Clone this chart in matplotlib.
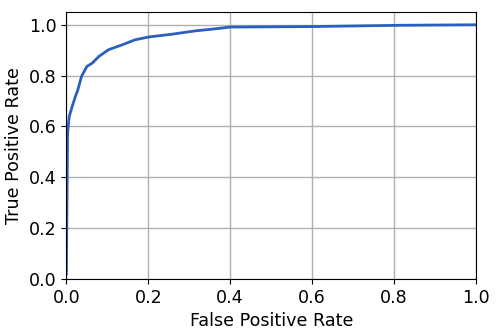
import matplotlib
matplotlib.use("Agg")
import matplotlib.pyplot as plt

fpr = [0.0, 0.003, 0.007, 0.014, 0.022, 0.028, 0.037, 0.050, 0.063, 0.079,
       0.103, 0.136, 0.168, 0.201, 0.258, 0.315, 0.363, 0.40, 0.602, 0.815, 1.0]
tpr = [0.02, 0.574, 0.639, 0.678, 0.718, 0.744, 0.797, 0.836, 0.849, 0.875,
       0.902, 0.921, 0.941, 0.952, 0.963, 0.976, 0.984, 0.991, 0.993, 0.998, 1.0]

fig, ax = plt.subplots(figsize=(4.99, 3.35), dpi=100)
ax.plot(fpr, tpr, color="#2b5fbf", linewidth=2)
ax.set_xlim(0, 1)
ax.set_ylim(0, 1.05)
ax.set_xlabel("False Positive Rate", fontsize=12.6)
ax.set_ylabel("True Positive Rate", fontsize=12.6)
ax.tick_params(labelsize=12.6)
ax.grid(True, color="#b0b0b0", linewidth=1)
fig.subplots_adjust(left=0.133, right=0.954, top=0.964, bottom=0.167)
fig.savefig("out.png", dpi=100)
